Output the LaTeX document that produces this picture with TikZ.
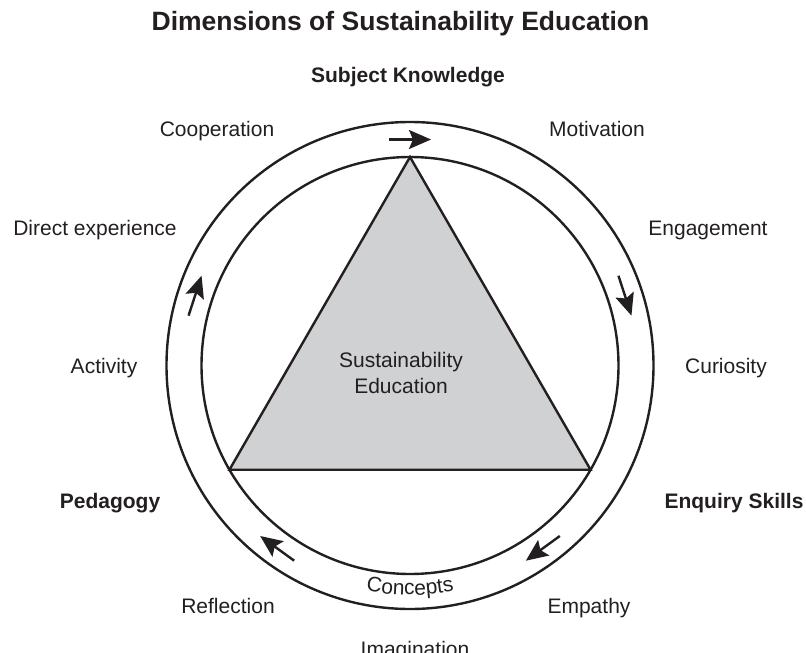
\documentclass[tikz,border=0pt]{standalone}
\usepackage{fontspec}
\setmainfont{Liberation Sans}
\usetikzlibrary{arrows.meta,calc,decorations.text}
\definecolor{ink}{RGB}{35,31,32}
\definecolor{trifill}{RGB}{208,209,211}
\begin{document}
\begin{tikzpicture}[x=1pt,y=-1pt,
  lbl/.style={inner sep=0pt, anchor=base, text=ink, font=\fontsize{21}{25}\selectfont},
  head/.style={lbl, font=\fontsize{21}{25}\selectfont\bfseries},
  titletext/.style={lbl, font=\fontsize{26.5}{32}\selectfont\bfseries},
  ring/.style={draw=ink, line width=2.4pt},
  flow/.style={draw=ink, line width=2.4pt, -{Stealth[length=22pt,width=19pt,inset=4pt]}}]
\useasboundingbox (0,0) rectangle (806,653);

% centre of the two rings
\coordinate (c) at (410,365.5);

% equilateral triangle inscribed in the inner ring
\coordinate (tA) at ($(c)+(-90:208.5)$);
\coordinate (tB) at ($(c)+(150:208.5)$);
\coordinate (tC) at ($(c)+(30:208.5)$);
\fill[trifill] (tA) -- (tB) -- (tC) -- cycle;

% rings
\draw[ring] (c) circle[radius=243.5];
\draw[ring] (c) circle[radius=208.5];
\draw[ring, line join=miter] (tA) -- (tB) -- (tC) -- cycle;

% clockwise flow arrows between the rings
\foreach \a [count=\i] in {-90,-18,54,126,-162} {
  \coordinate (s\i) at ($(c)+(\a:226)+(\a-90:21)$);
  \coordinate (e\i) at ($(c)+(\a:226)+(\a+90:21)$);
  \draw[flow] (s\i) -- (e\i);
}

% word set along the bottom of the ring band
\path[decorate, decoration={text along path, text align=center,
    text color=ink, text={|\fontsize{21}{25}\selectfont|Concepts}}]
  ($(c)+(115:229.5)$) arc[start angle=115, end angle=65, radius=229.5];

% headings
\node[titletext] (title) at (400.5,30.7) {Dimensions of Sustainability Education};
\node[head] (subj) at (408,82) {Subject Knowledge};
\node[head] (peda) at (110,508) {Pedagogy};
\node[head] (enq) at (734,508) {Enquiry Skills};

% centre text
\node[lbl] (sus) at (401,367) {Sustainability};
\node[lbl] (edu) at (401,393) {Education};

% labels around the ring
\node[lbl] (coop) at (217,136) {Cooperation};
\node[lbl] (motiv) at (597,136) {Motivation};
\node[lbl] (direct) at (95,235) {Direct experience};
\node[lbl] (engage) at (708,235) {Engagement};
\node[lbl] (activity) at (104,373) {Activity};
\node[lbl] (curio) at (726,373) {Curiosity};
\node[lbl] (refl) at (228,613) {Reflection};
\node[lbl] (empa) at (589,613) {Empathy};
\node[lbl] (imag) at (415,656) {Imagination};
\end{tikzpicture}
\end{document}
